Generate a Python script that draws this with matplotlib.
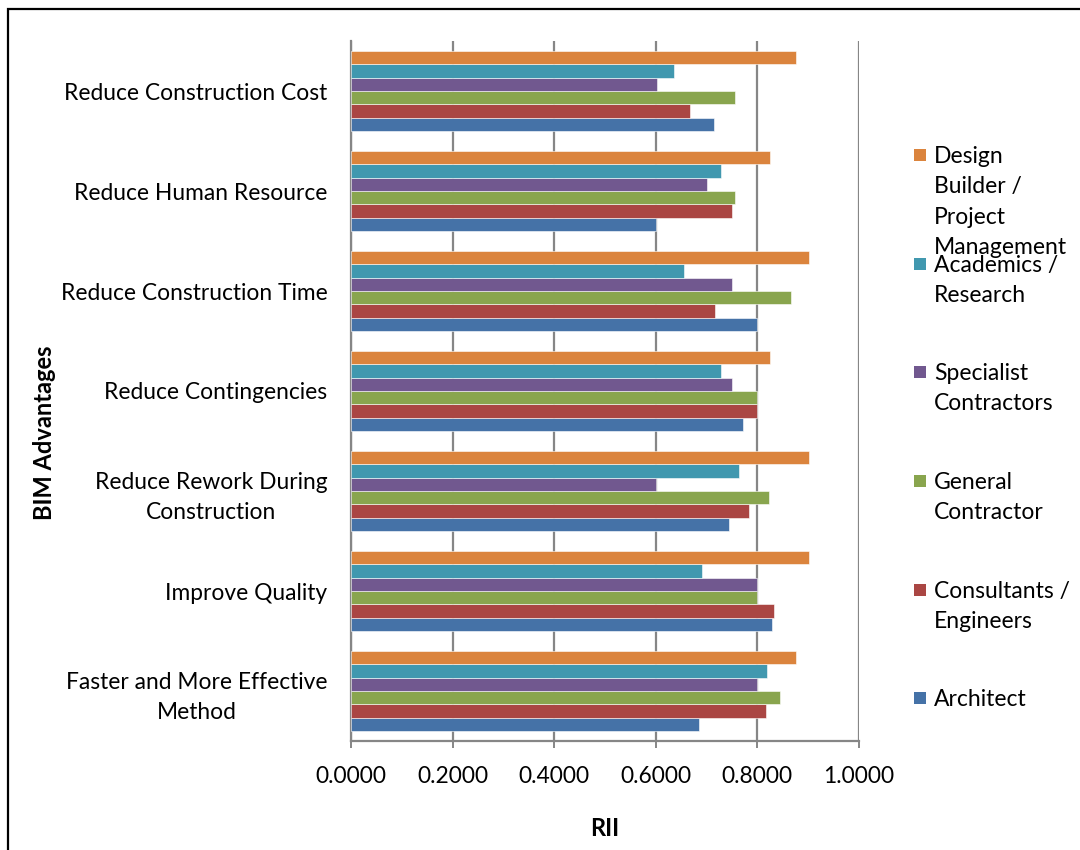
import matplotlib
matplotlib.use("Agg")
import matplotlib.pyplot as plt
from matplotlib.patches import Rectangle
import numpy as np

plt.rcParams['font.family'] = ['Lato', 'DejaVu Sans']

# Categories, top to bottom as listed on the chart
categories = [
    "Reduce Construction Cost",
    "Reduce Human Resource",
    "Reduce Construction Time",
    "Reduce Contingencies",
    "Reduce Rework During\nConstruction",
    "Improve Quality",
    "Faster and More Effective\nMethod",
]

# RII per respondent group (same category order)
architect = [0.7145, 0.6010, 0.8000, 0.7716, 0.7434, 0.8286, 0.6857]
consultants = [0.6670, 0.7505, 0.7165, 0.8000, 0.7833, 0.8330, 0.8160]
general_contractor = [0.7560, 0.7560, 0.8667, 0.8000, 0.8227, 0.8000, 0.8443]
specialist = [0.6020, 0.7000, 0.7505, 0.7505, 0.6000, 0.8000, 0.8000]
academics = [0.6365, 0.7277, 0.6550, 0.7277, 0.7637, 0.6910, 0.8180]
design_builder = [0.8750, 0.8247, 0.9007, 0.8247, 0.9007, 0.9007, 0.8750]

series_labels = [
    "Architect",
    "Consultants /\nEngineers",
    "General\nContractor",
    "Specialist\nContractors",
    "Academics /\nResearch",
    "Design\nBuilder /\nProject\nManagement",
]
series_values = [architect, consultants, general_contractor, specialist, academics, design_builder]
series_colors = ["#4572A7", "#AA4643", "#89A54E", "#71588F", "#4198AF", "#DB843D"]

x_ticks = [0.0, 0.2, 0.4, 0.6, 0.8, 1.0]

W, H = 1080, 850
fig = plt.figure(figsize=(W / 100, H / 100), dpi=100)

# outer frame of the chart area
fig.add_artist(Rectangle((8 / W, -0.05), 1.2, 1 - 9 / H + 0.05,
                         transform=fig.transFigure, fill=False,
                         edgecolor="black", linewidth=1.6))

ax = fig.add_axes([351 / W, 1 - 741 / H, 508 / W, 700 / H])

n_cat = len(categories)
y_base = np.arange(n_cat)[::-1]  # first category at the top
bar_h = 0.8 / 6
for j, (vals, col) in enumerate(zip(series_values, series_colors)):
    ax.barh(y_base + (j - 2.5) * bar_h, vals, height=bar_h, color=col,
            edgecolor="white", linewidth=0.4, zorder=3)

ax.set_xlim(0, 1.0)
ax.set_ylim(-0.5, n_cat - 0.5)
ax.set_xticks(x_ticks)
ax.set_xticklabels([f"{v:.4f}" for v in x_ticks])
ax.set_yticks(y_base)
ax.set_yticklabels(categories, multialignment="center", linespacing=1.55)

ax.grid(axis="x", color="#868686", linewidth=1.6, zorder=0)
for side in ("top", "right"):
    ax.spines[side].set_visible(False)
for side in ("left", "bottom"):
    ax.spines[side].set_color("#868686")
    ax.spines[side].set_linewidth(1.6)

ax.tick_params(axis="x", length=5, width=1.4, color="#868686", pad=13,
               labelsize=16.4, labelcolor="black")
ax.tick_params(axis="y", length=0, pad=17, labelsize=16.4, labelcolor="black")

fig.text(45 / W, 1 - 433 / H, "BIM Advantages", rotation=90, ha="center",
         va="center", fontsize=17, fontweight="bold")
fig.text(605 / W, 1 - 828 / H, "RII", ha="center", va="center",
         fontsize=17, fontweight="bold")

# legend, drawn in reverse series order
first_line_y = [155, 264, 372, 481, 590, 698]
for k, idx in enumerate(range(len(series_labels) - 1, -1, -1)):
    yc = 1 - first_line_y[k] / H
    fig.add_artist(Rectangle((914 / W, yc - 6 / H), 12 / W, 12 / H,
                             transform=fig.transFigure,
                             facecolor=series_colors[idx], edgecolor="none"))
    fig.text(934 / W, yc + 9 / H, series_labels[idx], ha="left", va="top",
             fontsize=16.5, linespacing=1.55)

fig.savefig("out.png", dpi=100)
